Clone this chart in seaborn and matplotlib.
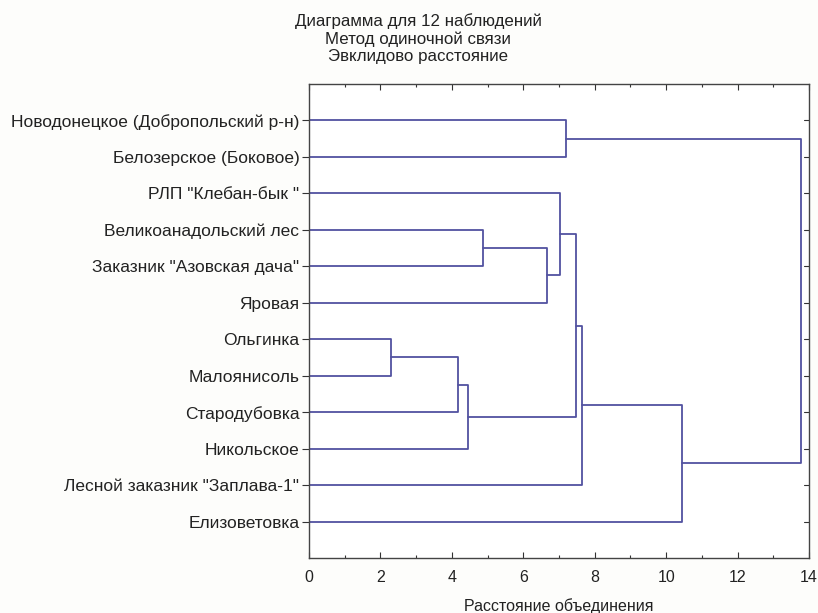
import matplotlib
matplotlib.use("Agg")
import matplotlib.pyplot as plt
from matplotlib.ticker import MultipleLocator
import seaborn as sns
import pandas as pd

# Leaves in display order (top to bottom)
leaves = [
    'Новодонецкое (Добропольский р-н)',
    'Белозерское (Боковое)',
    'РЛП "Клебан-бык "',
    'Великоанадольский лес',
    'Заказник "Азовская дача"',
    'Яровая',
    'Ольгинка',
    'Малоянисоль',
    'Стародубовка',
    'Никольское',
    'Лесной заказник "Заплава-1"',
    'Елизоветовка',
]
# Merges: (child_a, child_b, linkage distance); children are leaf names or merge ids "M0".. in order
merge_a = ['Новодонецкое (Добропольский р-н)', 'Великоанадольский лес', 'M1', 'РЛП "Клебан-бык "',
           'Ольгинка', 'M4', 'M5', 'M3', 'M7', 'M8', 'M0']
merge_b = ['Белозерское (Боковое)', 'Заказник "Азовская дача"', 'Яровая', 'M2',
           'Малоянисоль', 'Стародубовка', 'Никольское', 'M6', 'Лесной заказник "Заплава-1"',
           'Елизоветовка', 'M9']
merge_h = [7.19, 4.86, 6.67, 7.03, 2.30, 4.16, 4.46, 7.47, 7.65, 10.45, 13.77]

title_lines = ['Диаграмма для 12 наблюдений', 'Метод одиночной связи', 'Эвклидово расстояние']
xlabel = 'Расстояние объединения'
xticks = [0, 2, 4, 6, 8, 10, 12, 14]

sns.set_theme(style='white')
plt.rcParams['font.family'] = ['Liberation Sans', 'DejaVu Sans']

# build segment table
pos = {name: i + 1 for i, name in enumerate(leaves)}
hgt = {name: 0.0 for name in leaves}
rows = []
for k, (a, b, h) in enumerate(zip(merge_a, merge_b, merge_h)):
    ya, yb = pos[a], pos[b]
    pts = [(hgt[a], ya), (h, ya), (h, yb), (hgt[b], yb)]
    for j, (x, y) in enumerate(pts):
        rows.append({'x': x, 'y': y, 'link': k, 'order': j})
    pos[f'M{k}'] = (ya + yb) / 2
    hgt[f'M{k}'] = h
df = pd.DataFrame(rows)

fig = plt.figure(figsize=(8.18, 6.13), dpi=100)
fig.patch.set_facecolor('#fdfdfb')
ax = fig.add_axes([309 / 818, 1 - 558 / 613, 500 / 818, (558 - 84) / 613])
ax.set_facecolor('white')

sns.lineplot(data=df, x='x', y='y', units='link', estimator=None, sort=False,
             color='#5252a0', linewidth=1.3, ax=ax, legend=False)

ax.set_xlim(0, 14)
ax.set_ylim(13, 0)
ax.set_xticks(xticks)
ax.set_xticklabels([str(t) for t in xticks], fontsize=11.5, color='#222222')
ax.xaxis.set_minor_locator(MultipleLocator(1))
ax.set_yticks(range(1, len(leaves) + 1))
ax.set_yticklabels(leaves, fontsize=12.5, color='#222222')
ax.tick_params(axis='x', which='both', direction='in', top=True, bottom=True,
               length=4, width=0.8, color='#333333', pad=9)
ax.tick_params(axis='x', which='minor', length=2.5)
ax.tick_params(axis='y', direction='out', left=True, right=False, length=5,
               width=0.8, color='#333333', pad=2)
# right-side inward ticks
for y in range(1, len(leaves) + 1):
    ax.plot([13.85, 14], [y, y], color='#333333', lw=0.8, clip_on=False)
for s in ax.spines.values():
    s.set_color('#444444')
    s.set_linewidth(1.0)
ax.set_xlabel(xlabel, fontsize=11.5, labelpad=9, color='#222222')
ax.set_ylabel('')

for i, t in enumerate(title_lines):
    fig.text(418 / 818, 1 - (21 + 18 * i) / 613, t, ha='center', va='center',
             fontsize=12.2, color='#222222')

fig.savefig('out.png', dpi=100)
